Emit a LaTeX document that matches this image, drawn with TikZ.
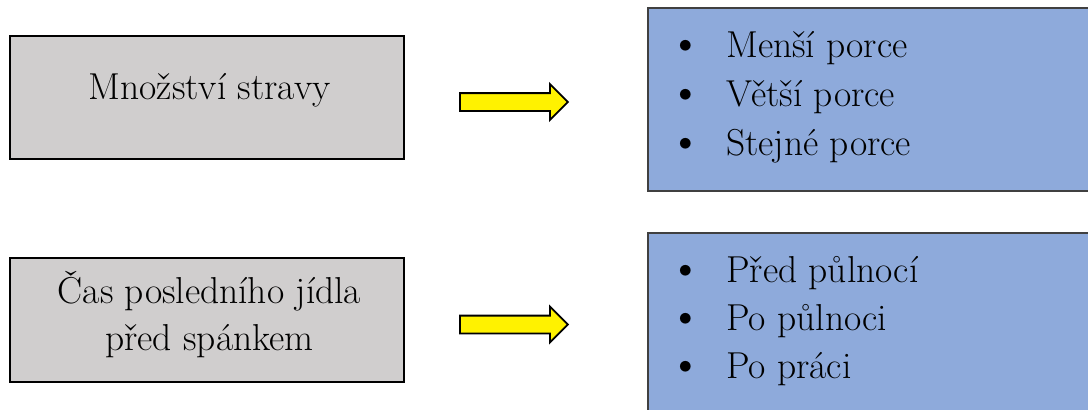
\documentclass[tikz,border=0pt]{standalone}
\usepackage{fontspec}
\usetikzlibrary{shapes.arrows}
\definecolor{boxgray}{HTML}{D0CECE}
\definecolor{listblue}{HTML}{8EAADB}
\definecolor{listedge}{HTML}{404040}
\tikzset{%
  factor/.style  = {shape=rectangle, draw=black, line width=1.6pt,%
                    fill=boxgray, inner sep=0pt},%
  choices/.style = {shape=rectangle, draw=listedge, line width=1.3pt,%
                    fill=listblue, inner sep=0pt},%
  pointer/.style = {single arrow, draw=black, line width=1.8pt, fill=yellow,%
                    inner xsep=0pt, inner ysep=8pt,%
                    single arrow head extend=9pt, minimum height=108pt},%
  caption/.style = {inner sep=0pt, anchor=base},%
  dot/.style     = {inner sep=0pt, anchor=base, font=\fontsize{48}{48}\selectfont},%
  entry/.style   = {inner sep=0pt, anchor=base west}%
}
\begin{document}
\begin{tikzpicture}[x=1pt,y=-1pt,every node/.style={font=\fontsize{37.5}{45}\selectfont}]
	\useasboundingbox (0,0) rectangle (1088,410);
	% left column: the two factors
	\node[factor, minimum width=394pt, minimum height=123pt] (amount) at (207,97.5) {};
	\node[caption] (amounttxt) at (209.5,99) {Množství stravy};
	\node[factor, minimum width=394pt, minimum height=124pt] (lastmeal) at (207,320) {};
	\node[caption] (lastmealA) at (209.5,303) {Čas posledního jídla};
	\node[caption] (lastmealB) at (209.5,350) {před spánkem};
	% block arrows
	\node[pointer, anchor=tail] (arrowA) at (459,102) {};
	\node[pointer, anchor=tail] (arrowB) at (459,324.5) {};
	% right column: the possible answers
	\node[choices, minimum width=460pt, minimum height=183pt] (portions) at (878,99.5) {};
	\foreach \txt/\y [count=\i] in {Menší porce/57, Větší porce/106, Stejné porce/155}{
		\node[dot] (pdot\i) at (685.5,\y+1) {\textbullet};
		\node[entry] (pitem\i) at (726,\y) {\txt};
	}
	\node[choices, minimum width=460pt, minimum height=200pt] (timing) at (878,333) {};
	\foreach \txt/\y [count=\i] in {Před půlnocí/282, Po půlnoci/330, Po práci/378}{
		\node[dot] (tdot\i) at (685.5,\y+1) {\textbullet};
		\node[entry] (titem\i) at (726,\y) {\txt};
	}
\end{tikzpicture}
\end{document}
